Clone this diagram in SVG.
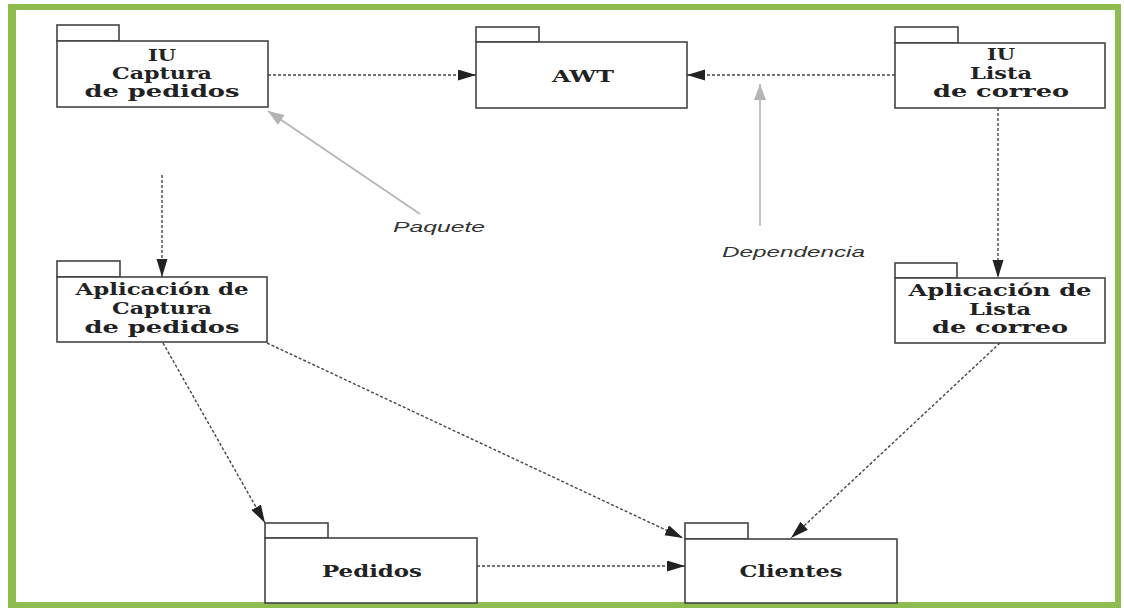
<svg xmlns="http://www.w3.org/2000/svg" width="1124" height="611" viewBox="0 0 1124 611">
<defs>
<style>
.pkg{fill:#fff;stroke:#444;stroke-width:1.6}
.lbl{font-family:"DejaVu Serif","Liberation Serif",serif;font-weight:bold;font-size:16px;fill:#222;text-anchor:middle}
.dep{fill:none;stroke:#444;stroke-width:1.4;stroke-dasharray:3 2}
.note{fill:none;stroke:#b4b4b4;stroke-width:1.6}
.ntxt{font-family:"Liberation Sans",Arial,sans-serif;font-style:italic;font-size:15px;fill:#333}
</style>
<marker id="ah" markerUnits="userSpaceOnUse" markerWidth="20" markerHeight="12" refX="18" refY="5.5" orient="auto">
<path d="M0,0 L18,5.5 L0,11 Z" fill="#222"/>
</marker>
<marker id="ahg" markerUnits="userSpaceOnUse" markerWidth="18" markerHeight="14" refX="16" refY="6" orient="auto">
<path d="M0,0 L16,6 L0,12 Z" fill="#b4b4b4"/>
</marker>
</defs>
<rect x="0" y="0" width="1124" height="611" fill="#fff"/>
<rect x="11" y="7" width="1107" height="598" fill="none" stroke="#8fbc4f" stroke-width="6"/>
<rect x="8" y="7" width="8" height="598" fill="#8fbc4f"/>

<g id="connectors">
<line class="dep" x1="268" y1="75" x2="476" y2="75" marker-end="url(#ah)"/>
<line class="dep" x1="895" y1="75" x2="687" y2="75" marker-end="url(#ah)"/>
<line class="dep" x1="998" y1="108" x2="998" y2="278" marker-end="url(#ah)"/>
<line class="dep" x1="162" y1="175" x2="162" y2="277" marker-end="url(#ah)"/>
<line class="dep" x1="163" y1="343" x2="265" y2="523" marker-end="url(#ah)"/>
<line class="dep" x1="267" y1="343" x2="683" y2="538" marker-end="url(#ah)"/>
<line class="dep" x1="1000" y1="343" x2="791" y2="538" marker-end="url(#ah)"/>
<line class="dep" x1="477" y1="566" x2="685" y2="566" marker-end="url(#ah)"/>
<line class="note" x1="420" y1="214" x2="268" y2="111" marker-end="url(#ahg)"/>
<line class="note" x1="760" y1="226" x2="760" y2="84" marker-end="url(#ahg)"/>
</g>

<g id="lbl-paquete"><text class="ntxt" x="393" y="232" textLength="92" lengthAdjust="spacingAndGlyphs">Paquete</text></g>
<g id="lbl-dependencia"><text class="ntxt" x="722" y="257" textLength="143" lengthAdjust="spacingAndGlyphs">Dependencia</text></g>

<g id="iu-captura">
<rect class="pkg" x="57" y="25" width="62" height="16"/>
<rect class="pkg" x="57" y="41" width="211" height="66"/>
<text class="lbl" x="162" y="61" textLength="28" lengthAdjust="spacingAndGlyphs">IU</text>
<text class="lbl" x="162" y="79" textLength="100" lengthAdjust="spacingAndGlyphs">Captura</text>
<text class="lbl" x="162" y="97" textLength="155" lengthAdjust="spacingAndGlyphs">de pedidos</text>
</g>

<g id="awt">
<rect class="pkg" x="476" y="27" width="63" height="15"/>
<rect class="pkg" x="476" y="42" width="211" height="66"/>
<text class="lbl" x="583" y="82" textLength="62" lengthAdjust="spacingAndGlyphs">AWT</text>
</g>

<g id="iu-lista">
<rect class="pkg" x="895" y="27" width="63" height="16"/>
<rect class="pkg" x="895" y="43" width="210" height="65"/>
<text class="lbl" x="1001" y="60" textLength="28" lengthAdjust="spacingAndGlyphs">IU</text>
<text class="lbl" x="1001" y="79" textLength="62" lengthAdjust="spacingAndGlyphs">Lista</text>
<text class="lbl" x="1001" y="97" textLength="136" lengthAdjust="spacingAndGlyphs">de correo</text>
</g>

<g id="app-captura">
<rect class="pkg" x="57" y="261" width="63" height="16"/>
<rect class="pkg" x="57" y="277" width="210" height="65"/>
<text class="lbl" x="162" y="295" textLength="173" lengthAdjust="spacingAndGlyphs">Aplicación de</text>
<text class="lbl" x="162" y="314" textLength="100" lengthAdjust="spacingAndGlyphs">Captura</text>
<text class="lbl" x="162" y="333" textLength="155" lengthAdjust="spacingAndGlyphs">de pedidos</text>
</g>

<g id="app-lista">
<rect class="pkg" x="895" y="263" width="62" height="15"/>
<rect class="pkg" x="895" y="278" width="210" height="65"/>
<text class="lbl" x="1000" y="296" textLength="183" lengthAdjust="spacingAndGlyphs">Aplicación de</text>
<text class="lbl" x="1000" y="315" textLength="62" lengthAdjust="spacingAndGlyphs">Lista</text>
<text class="lbl" x="1000" y="333" textLength="136" lengthAdjust="spacingAndGlyphs">de correo</text>
</g>

<g id="pedidos">
<rect class="pkg" x="265" y="523" width="63" height="15"/>
<rect class="pkg" x="265" y="538" width="212" height="65"/>
<text class="lbl" x="372" y="577" textLength="100" lengthAdjust="spacingAndGlyphs">Pedidos</text>
</g>

<g id="clientes">
<rect class="pkg" x="685" y="523" width="63" height="16"/>
<rect class="pkg" x="685" y="539" width="212" height="64"/>
<text class="lbl" x="791" y="577" textLength="103" lengthAdjust="spacingAndGlyphs">Clientes</text>
</g>
</svg>
